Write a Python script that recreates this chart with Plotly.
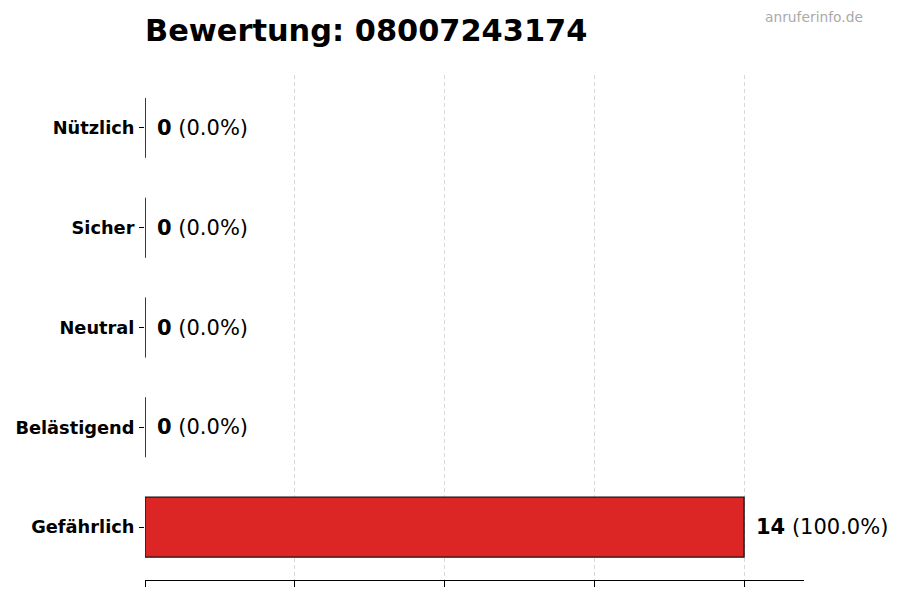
from plotly import graph_objects as go

# rating categories, bottom to top as drawn
categories = ["Gefährlich", "Belästigend", "Neutral", "Sicher", "Nützlich"]
counts = [14, 0, 0, 0, 0]
x_ticks = [0, 3.5, 7, 10.5, 14]
phone_number = "08007243174"

FONT = "DejaVu Sans"
BAR_COLOR = "#dc2626"

# the page body adds an 8px margin, so the figure is laid out 8px up/left
OFF = 8
PLOT_L, PLOT_R, PLOT_T, PLOT_B = 145, 804, 75, 580

total = sum(counts)
percents = [100.0 * c / total if total else 0.0 for c in counts]

fig = go.Figure()
fig.add_trace(go.Bar(
    x=counts,
    y=categories,
    orientation="h",
    width=0.6,
    marker=dict(color=BAR_COLOR, line=dict(color="#111111", width=1.3)),
    hoverinfo="skip",
    showlegend=False,
))

# value labels next to each bar
for cat, c, p in zip(categories, counts, percents):
    fig.add_annotation(
        x=c, y=cat, xref="x", yref="y",
        text=f"<b>{c}</b> ({p:.1f}%)",
        showarrow=False, xanchor="left", yanchor="middle", xshift=10,
        font=dict(family=FONT, size=21, color="black"),
    )

# zero-length bars still show their outline edge
for i, c in enumerate(counts):
    if c == 0:
        fig.add_shape(
            type="line", xref="x", yref="y",
            x0=0, x1=0, y0=i - 0.3, y1=i + 0.3,
            line=dict(color="#111111", width=1),
        )

# watermark, top right
fig.add_annotation(
    x=(865 - PLOT_L) / (PLOT_R - PLOT_L),
    y=(PLOT_B - 17) / (PLOT_B - PLOT_T),
    xref="paper", yref="paper",
    text="anruferinfo.de", showarrow=False,
    xanchor="right", yanchor="middle",
    font=dict(family=FONT, size=13.8, color="#aaaaaa"),
)

fig.update_layout(
    width=900, height=600,
    margin=dict(l=PLOT_L - OFF, r=900 - PLOT_R + OFF,
                t=PLOT_T - OFF, b=600 - PLOT_B + OFF),
    paper_bgcolor="white", plot_bgcolor="white",
    title=dict(
        text=f"<b>Bewertung: {phone_number}</b>",
        x=(PLOT_L - OFF) / 900, xanchor="left", xref="container",
        y=1 - (30 - OFF) / 600, yanchor="middle", yref="container",
        font=dict(family=FONT, size=30.4, color="black"),
    ),
    xaxis=dict(
        range=[0, max(counts) * 1.1],
        tickvals=x_ticks, showticklabels=False,
        ticks="outside", ticklen=6, tickcolor="black", tickwidth=1,
        showline=True, linecolor="black", linewidth=1,
        showgrid=True, gridcolor="#d9d9d9", griddash="4px,3px", gridwidth=1,
        zeroline=False, fixedrange=True, automargin=False,
    ),
    yaxis=dict(
        type="category", categoryorder="array", categoryarray=categories,
        range=[-0.53, len(categories) - 1 + 0.53],
        ticks="outside", ticklen=5, tickcolor="black", tickwidth=1,
        ticklabelstandoff=1,
        showline=False, showgrid=False, zeroline=False,
        tickfont=dict(family=FONT, size=17.8, color="black"),
        fixedrange=True, automargin=False,
    ),
    font=dict(family=FONT),
)

# bold category labels
fig.update_yaxes(
    tickvals=categories,
    ticktext=[f"<b>{c}</b>" for c in categories],
)

fig.write_html("out.html")
